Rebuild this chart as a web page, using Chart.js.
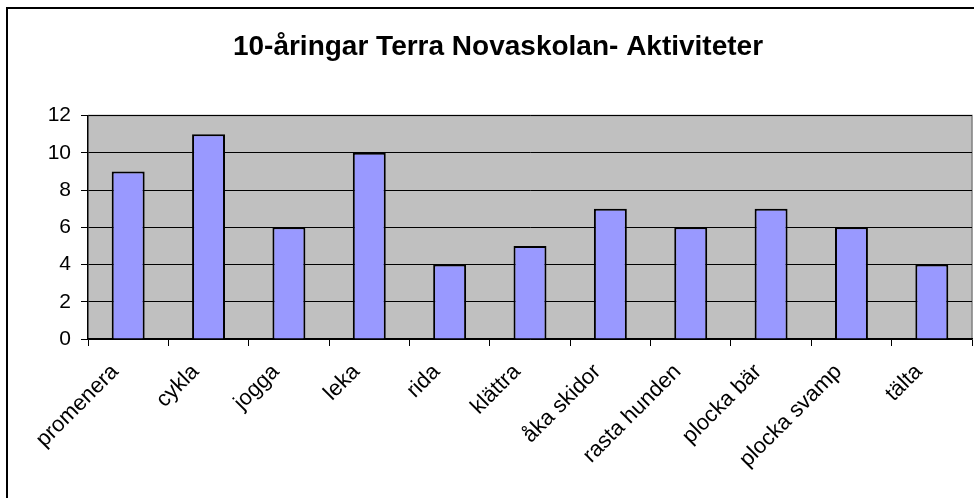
<!DOCTYPE html>
<html>
<head>
<meta charset="utf-8">
<script src="https://cdn.jsdelivr.net/npm/chart.js@4.4.0/dist/chart.umd.min.js"></script>
<style>
  body { margin: 0; background: #fff; }
  #wrap { position: relative; width: 974px; height: 498px; }
</style>
</head>
<body>
<div id="wrap"><canvas id="chart1" width="974" height="498"></canvas></div>
<script>
"use strict";

var categories = ["promenera", "cykla", "jogga", "leka", "rida", "klättra", "åka skidor", "rasta hunden", "plocka bär", "plocka svamp", "tälta"];
var counts = [9, 11, 6, 10, 4, 5, 7, 6, 7, 6, 4];
var yTicks = [0, 2, 4, 6, 8, 10, 12];
var titleText = "10-åringar Terra Novaskolan- Aktiviteter";

var fontFamily = "'Liberation Sans', Arial, sans-serif";

// gray plot background + outer frame
var framePlugin = {
  id: "frame",
  beforeDraw: function(chart) {
    var ctx = chart.ctx;
    var a = chart.chartArea;
    ctx.save();
    ctx.fillStyle = "#fff";
    ctx.fillRect(0, 0, chart.width, chart.height);
    ctx.strokeStyle = "#000";
    ctx.lineWidth = 2;
    ctx.beginPath();
    ctx.moveTo(7, chart.height + 5);
    ctx.lineTo(7, 8);
    ctx.lineTo(chart.width + 5, 8);
    ctx.stroke();
    ctx.fillStyle = "#c0c0c0";
    ctx.fillRect(a.left, a.top, a.right - a.left, a.bottom - a.top);
    ctx.strokeStyle = "#808080";
    ctx.lineWidth = 1.5;
    ctx.beginPath();
    ctx.moveTo(a.left, a.top);
    ctx.lineTo(a.right, a.top);
    ctx.lineTo(a.right, a.bottom);
    ctx.stroke();
    ctx.restore();
  }
};

function chart1() {
  var ctx = document.getElementById("chart1");
  var myChart = new Chart(ctx, {
    type: "bar",
    data: {
      labels: categories,
      datasets: [
        {
          data: counts,
          backgroundColor: "#9999ff",
          borderColor: "#000",
          borderWidth: 2,
          barPercentage: 0.41,
          categoryPercentage: 1
        }
      ]
    },
    options: {
      responsive: false,
      animation: false,
      layout: {
        padding: { left: 24, right: 2, top: 0, bottom: 0 }
      },
      plugins: {
        legend: { display: false },
        tooltip: { enabled: false },
        title: {
          display: true,
          text: titleText,
          color: "#000",
          font: { family: fontFamily, size: 28, weight: "bold" },
          padding: { top: 30, bottom: 52 }
        }
      },
      scales: {
        x: {
          afterFit: function(scale) { scale.height = 159; },
          border: { display: true, color: "#000", width: 1.5 },
          grid: {
            offset: true,
            drawOnChartArea: false,
            drawTicks: true,
            tickLength: 7,
            color: "#000"
          },
          ticks: {
            color: "#000",
            maxRotation: 45,
            minRotation: 45,
            padding: 13,
            labelOffset: -13,
            font: { family: fontFamily, size: 22 }
          }
        },
        y: {
          min: 0,
          max: 12,
          afterFit: function(scale) { scale.width = 64; },
          afterBuildTicks: function(scale) {
            scale.ticks = yTicks.map(function(v) { return { value: v }; });
          },
          border: { display: true, color: "#000", width: 1.5 },
          grid: {
            color: "#000",
            lineWidth: 1,
            tickLength: 7
          },
          ticks: {
            color: "#000",
            padding: 10,
            font: { family: fontFamily, size: 21 }
          }
        }
      }
    },
    plugins: [framePlugin]
  });
}

chart1();
</script>
</body>
</html>
